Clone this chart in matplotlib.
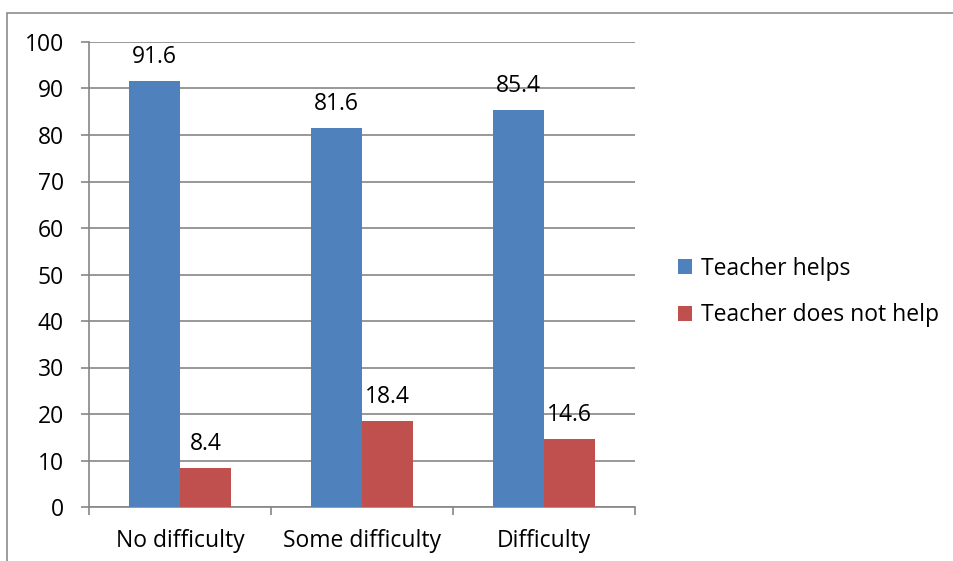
import matplotlib.pyplot as plt
import numpy as np
from matplotlib.patches import Rectangle

# Data
categories = ['No difficulty', 'Some difficulty', 'Difficulty']
teacher_helps = [91.6, 81.6, 85.4]
teacher_not_help = [8.4, 18.4, 14.6]
series_names = ['Teacher helps', 'Teacher does not help']
y_ticks = [0, 10, 20, 30, 40, 50, 60, 70, 80, 90, 100]

plt.rcParams['font.family'] = ['Open Sans', 'DejaVu Sans']

W, H = 954, 561
fs = 16.5
fig = plt.figure(figsize=(W / 100, H / 100), dpi=100)
fig.patch.set_facecolor('white')

# Outer chart border (right and bottom edges run off the image)
fig.add_artist(Rectangle((7 / W, -0.05), 1.1, (H - 13) / H + 0.05,
                         transform=fig.transFigure, fill=False,
                         edgecolor='#8c8c8c', linewidth=1.2))

ax = fig.add_axes([89 / W, (H - 507) / H, (635 - 89) / W, (507 - 42) / H])

x = np.arange(len(categories))
width = 0.28
gray = '#868686'

bars1 = ax.bar(x - width / 2, teacher_helps, width, color='#4F81BD', label=series_names[0], zorder=3)
bars2 = ax.bar(x + width / 2, teacher_not_help, width, color='#C0504D', label=series_names[1], zorder=3)

# value labels above each bar
for bars in (bars1, bars2):
    for b in bars:
        ax.annotate(f'{b.get_height():.1f}', (b.get_x() + b.get_width() / 2, b.get_height()),
                    xytext=(0, 13), textcoords='offset points', ha='center', va='baseline',
                    fontsize=fs, color='black')

ax.set_xlim(-0.5, len(categories) - 0.5)
ax.set_ylim(0, 100)
ax.set_yticks(y_ticks)
ax.set_xticks(x)
ax.set_xticklabels(categories, fontsize=fs)
ax.tick_params(axis='y', labelsize=fs, length=6, color=gray, width=1.2, pad=12)
ax.tick_params(axis='x', length=0, pad=16)
# category boundary ticks
ax.set_xticks(np.arange(len(categories) + 1) - 0.5, minor=True)
ax.tick_params(axis='x', which='minor', length=6, color=gray, width=1.2)

ax.grid(axis='y', color=gray, linewidth=1.2, zorder=0)
for s in ('top', 'right'):
    ax.spines[s].set_visible(False)
for s in ('left', 'bottom'):
    ax.spines[s].set_color(gray)
    ax.spines[s].set_linewidth(1.2)

ax.legend(loc='center left', bbox_to_anchor=(678 / W, (H - 292) / H), bbox_transform=fig.transFigure,
          frameon=False, fontsize=fs, handlelength=0.6, handleheight=0.6,
          handletextpad=0.4, labelspacing=1.0, borderpad=0, borderaxespad=0)

fig.savefig('out.png', dpi=100)
